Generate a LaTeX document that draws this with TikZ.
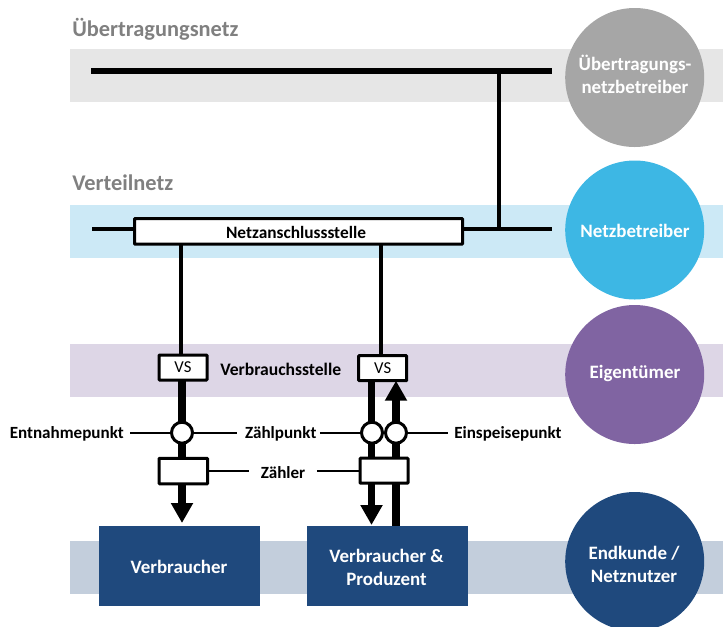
\documentclass[tikz,border=0pt]{standalone}
\usepackage{fontspec}
\setmainfont{Carlito}
\usetikzlibrary{arrows.meta}
\definecolor{bandgray}{HTML}{E6E6E6}
\definecolor{bandblue}{HTML}{CCE9F6}
\definecolor{bandpurple}{HTML}{DDD6E6}
\definecolor{bandnavy}{HTML}{C3CEDC}
\definecolor{cgray}{HTML}{A6A6A6}
\definecolor{cblue}{HTML}{3DB7E4}
\definecolor{cpurple}{HTML}{8064A2}
\definecolor{cnavy}{HTML}{1F497D}
\definecolor{headgray}{HTML}{808080}
\tikzset{
 x=0.75pt,y=-0.75pt,
 band/.style={anchor=north west,minimum width=653*0.75pt,minimum height=53*0.75pt,inner sep=0,outer sep=0},
 role/.style={circle,minimum size=139*0.75pt,inner sep=0},
 roletext/.style={text=white,inner sep=0,font=\bfseries\fontsize{14.2pt}{17.2pt}\selectfont,align=center},
 headline/.style={anchor=west,text=headgray,inner sep=0,font=\bfseries\fontsize{16.8pt}{20pt}\selectfont},
 lab/.style={inner sep=0,font=\bfseries\fontsize{12.8pt}{15pt}\selectfont,text=black},
 thin line/.style={line width=3pt,black},
 lead/.style={line width=1.2pt,black},
 powerhead/.style={line width=5.4pt,black,-{Triangle[length=20*0.75pt,width=21*0.75pt]}},
 wbox/.style={draw=black,fill=white,line width=2.25pt,inner sep=0,outer sep=0,rounded corners=0.5pt},
 pt/.style={circle,draw=black,fill=white,line width=2.25pt,minimum size=21*0.75pt,inner sep=0,outer sep=0},
 cons/.style={fill=cnavy,minimum width=161*0.75pt,minimum height=80*0.75pt,inner sep=0,outer sep=0}
}
\begin{document}
\begin{tikzpicture}
\useasboundingbox (0,0) rectangle (723,626);
% bands
\node[band,fill=bandgray] (b1) at (70,49) {};
\node[band,fill=bandblue] (b2) at (70,204.5) {};
\node[band,fill=bandpurple] (b3) at (70,343.5) {};
\node[band,fill=bandnavy] (b4) at (70,541) {};
% circles
\begin{scope}
\clip (0,0) rectangle (723,626);
\node[role,fill=cgray] (c1) at (634.7,77.5) {};
\node[role,fill=cblue] (c2) at (634.7,230) {};
\node[role,fill=cpurple] (c3) at (634.7,374.5) {};
\node[role,fill=cnavy] (c4) at (634.7,561.5) {};
\end{scope}
\node[roletext] (r1) at (635,74) {Übertragungs-\\netzbetreiber};
\node[roletext] (r2) at (635,231) {Netzbetreiber};
\node[roletext] (r3) at (635,373.5) {Eigentümer};
\node[roletext] (r4) at (634,564) {Endkunde /\\Netznutzer};
% headings
\node[headline] (h1) at (72,29) {Übertragungsnetz};
\node[headline] (h2) at (72,183) {Verteilnetz};
% boxes
\node[wbox,minimum width=328*0.75pt,minimum height=25.5*0.75pt] (nas) at (298.5,231.3) {};
\node[lab,font=\bfseries\fontsize{13pt}{15pt}\selectfont] (nast) at (296,232) {Netzanschlussstelle};
\node[wbox,minimum width=48*0.75pt,minimum height=25*0.75pt,font=\fontsize{12.5pt}{14pt}\selectfont] (vs1) at (183,367.5) {VS};
\node[wbox,minimum width=48*0.75pt,minimum height=25*0.75pt,font=\fontsize{12.5pt}{14pt}\selectfont] (vs2) at (382.7,368.2) {VS};
\node[cons] (v1) at (179,565.7) {};
\node[cons] (v2) at (387,565.7) {};
\node[roletext] (v1t) at (179,567) {Verbraucher};
\node[roletext] (v2t) at (386.5,567) {Verbraucher \&\\Produzent};
% transmission and distribution
\coordinate (t1) at (91,71.3);
\coordinate (t2) at (552,71.3);
\coordinate (t3) at (499,71.3);
\coordinate (d1) at (92,229.3);
\coordinate (d2) at (552,229.3);
\coordinate (d3) at (499,229.3);
\coordinate (a1) at (181,245);
\coordinate (a2) at (380.7,245);
\draw[line width=4.5pt] (t1) -- (t2);
\draw[thin line] (d1) -- (nas.west |- d1);
\draw[thin line] (nas.east |- d2) -- (d2);
\draw[thin line] (t3) -- (d3);
\draw[thin line] (a1) -- (a1 |- vs1.north);
\draw[thin line] (a2) -- (a2 |- vs2.north);
% power lines
\coordinate (p1) at (182,432.7);
\coordinate (p2) at (372,432.7);
\coordinate (p3) at (396,432.7);
\coordinate (q1) at (182,523);
\coordinate (q2) at (371.5,525);
\draw[powerhead] (p1 |- vs1.south) -- (q1);
\draw[powerhead] (q2 |- vs2.south) -- (q2);
\draw[powerhead] (p3 |- v2.north) -- (p3 |- vs2.south);
% meters
\node[wbox,minimum width=48.5*0.75pt,minimum height=25.5*0.75pt] (z1) at (183.3,471) {};
\node[wbox,minimum width=48*0.75pt,minimum height=25*0.75pt] (z2) at (384,470.7) {};
% measurement points
\node[pt] (e1) at (p1) {};
\node[pt] (e2) at (p2) {};
\node[pt] (e3) at (p3) {};
% labels and leaders
\node[lab,anchor=west,font=\bfseries\fontsize{13.2pt}{15pt}\selectfont] (lv) at (220,369.5) {Verbrauchsstelle};
\node[lab,anchor=east] (l1) at (124,434) {Entnahmepunkt};
\node[lab] (l2) at (280.7,434) {Zählpunkt};
\node[lab,anchor=west] (l3) at (454,434) {Einspeisepunkt};
\node[lab] (l4) at (283,473) {Zähler};
\draw[lead] ([xshift=4.5pt]l1.east |- e1.west) -- (e1.west);
\draw[lead] (e1.east) -- ([xshift=-6pt]l2.west |- e1.east);
\draw[lead] ([xshift=2.5pt]l2.east |- e2.west) -- (e2.west);
\draw[lead] (e3.east) -- ([xshift=-4.5pt]l3.west |- e3.east);
\draw[lead] (z1.east) -- ([xshift=-8.5pt]l4.west |- z1.east);
\draw[lead] ([xshift=8.5pt]l4.east |- z2.west) -- (z2.west);
\end{tikzpicture}
\end{document}
